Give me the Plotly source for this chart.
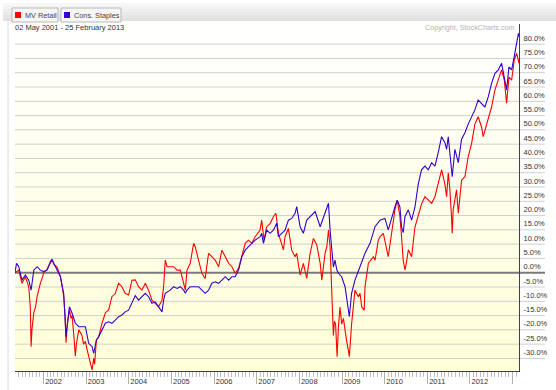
import plotly.graph_objects as go

# ---------------- data (percent change since 02 May 2001) ----------------
retail_dates = [
    "2001-05-02","2001-06-03","2001-07-01","2001-07-30","2001-08-28","2001-09-10","2001-09-17","2001-09-24",
    "2001-10-10","2001-10-25","2001-11-07","2001-11-20","2001-12-05","2001-12-20","2002-01-03","2002-02-01",
    "2002-03-01","2002-03-15","2002-03-30","2002-04-27","2002-05-26","2002-06-23","2002-07-05","2002-07-13",
    "2002-07-24","2002-08-11","2002-08-25","2002-09-03","2002-09-18","2002-10-01","2002-10-10","2002-10-30",
    "2002-11-15","2002-11-27","2002-12-10","2002-12-26","2003-01-10","2003-01-23","2003-02-05","2003-02-21",
    "2003-03-07","2003-03-15","2003-03-30","2003-04-19","2003-05-17","2003-06-15","2003-07-13","2003-08-10",
    "2003-09-08","2003-10-06","2003-11-04","2003-12-02","2003-12-31","2004-01-29","2004-02-26","2004-03-25",
    "2004-04-23","2004-05-22","2004-06-19","2004-07-18","2004-08-15","2004-09-13","2004-10-12","2004-10-26",
    "2004-11-09","2004-11-24","2004-12-22","2005-01-20","2005-02-18","2005-03-18","2005-04-16","2005-04-30",
    "2005-05-14","2005-06-11","2005-07-10","2005-07-24","2005-08-21","2005-09-19","2005-10-17","2005-11-15",
    "2005-12-13","2006-01-11","2006-02-09","2006-03-09","2006-04-07","2006-05-06","2006-06-03","2006-07-01",
    "2006-07-30","2006-08-27","2006-09-25","2006-10-23","2006-11-21","2006-12-19","2007-01-30","2007-02-13",
    "2007-03-05","2007-03-28","2007-04-26","2007-05-24","2007-06-15","2007-07-06","2007-08-04","2007-08-18",
    "2007-09-01","2007-09-30","2007-10-28","2007-11-26","2007-12-10","2008-01-08","2008-02-05","2008-03-05",
    "2008-04-03","2008-05-01","2008-05-30","2008-06-28","2008-07-12","2008-08-09","2008-08-24","2008-09-07",
    "2008-09-21","2008-10-05","2008-10-10","2008-10-19","2008-10-28","2008-11-07","2008-11-20","2008-12-01",
    "2008-12-15","2008-12-29","2009-01-13","2009-01-27","2009-02-10","2009-02-24","2009-03-05","2009-03-24",
    "2009-04-22","2009-05-21","2009-06-04","2009-06-19","2009-07-10","2009-07-17","2009-08-15","2009-09-27",
    "2009-10-11","2009-11-08","2009-11-22","2009-12-21","2010-01-04","2010-02-01","2010-03-02","2010-03-30",
    "2010-04-19","2010-05-12","2010-05-26","2010-06-09","2010-06-24","2010-07-06","2010-07-23","2010-08-20",
    "2010-09-18","2010-10-16","2010-11-13","2010-12-12","2011-01-10","2011-02-08","2011-03-08","2011-04-05",
    "2011-05-04","2011-06-01","2011-06-16","2011-06-30","2011-07-14","2011-07-28","2011-08-03","2011-08-11",
    "2011-08-26","2011-09-09","2011-09-24","2011-10-22","2011-11-20","2011-12-18","2012-01-15","2012-02-13",
    "2012-03-12","2012-04-10","2012-04-24","2012-05-23","2012-06-21","2012-07-05","2012-08-03","2012-09-01",
    "2012-09-29","2012-10-22","2012-11-11","2012-12-01","2012-12-24","2013-01-15","2013-02-05","2013-02-25",
]
retail_values = [
    0, 0.9, -3.7, -1.4, -5, -12, -25.9, -20,
    -14, -12, -8.4, -6, -3.7, -2, 0, 1.2,
    3.3, 4.5, 3, 2, -1.4, -8, -15, -24.5,
    -18, -13, -16, -15, -22, -29.2, -25, -20,
    -21, -22, -25, -24, -27, -29, -31, -34,
    -30, -32, -23.6, -22.4, -17.7, -14, -13, -8.4,
    -7.3, -3.7, -4.9, -7.2, -7.8, -2.6, -2.5, -4.9,
    -6.1, -3.7, -6.1, -9.6, -10.7, -11.9, -9.6, -4.9,
    4.4, 2.1, 2.1, 2.1, 0.9, 0.9, -3.7, -6.1,
    0.9, 3.3, 10.3, 9.1, 4.4, -0.2, -2, 6.8,
    5.6, 4.4, 2.1, 7.9, 5.6, 3.3, 2.1, -0.2,
    1.5, 5.6, 10.3, 11.4, 10.3, 12.6, 14.9, 18.4,
    11.4, 16.1, 17.2, 19.6, 20.8, 13.8, 10.3, 8,
    12.6, 15.5, 7.9, 5.6, 6.8, -0.8, 3.3, -2,
    6.8, 12, 9.7, 3.3, -2.6, 6.8, 9.1, 14.9,
    9.1, -7.2, -12, -22, -17, -18, -29.4, -19,
    -12, -18, -16, -21, -24, -27, -29.4, -18,
    -6.1, -8.4, -7.2, -11.9, -13.1, -4.9, 3.3, 5.6,
    4.4, 11.4, 12.6, 13.8, 10.8, 5.6, 13.8, 22,
    25.4, 19.6, 12.6, 4.4, 1, 3.3, 8, 5.6,
    16, 19.6, 24, 26.6, 25.4, 24.3, 26.6, 31,
    36, 31, 26.6, 35, 29, 19.6, 13.8, 22,
    25.4, 29, 20.8, 32.4, 33.6, 40.6, 45, 52,
    54.6, 51, 47.6, 52, 55.8, 58, 64, 67.4,
    71, 67.4, 59.3, 68.5, 67.4, 74.4, 76.8, 73.3,
]

staples_dates = [
    "2001-05-02","2001-05-15","2001-06-03","2001-07-01","2001-07-30","2001-08-28","2001-09-17","2001-10-10",
    "2001-11-07","2001-12-05","2002-01-03","2002-02-01","2002-03-01","2002-03-15","2002-03-30","2002-04-27",
    "2002-05-26","2002-06-23","2002-07-13","2002-08-11","2002-09-03","2002-10-01","2002-10-30","2002-11-27",
    "2002-12-26","2003-01-23","2003-02-21","2003-03-07","2003-03-30","2003-04-19","2003-05-17","2003-06-15",
    "2003-07-13","2003-08-10","2003-09-08","2003-10-06","2003-11-04","2003-12-02","2003-12-31","2004-01-29",
    "2004-02-26","2004-03-25","2004-04-23","2004-05-22","2004-06-19","2004-07-18","2004-08-15","2004-09-13",
    "2004-10-12","2004-10-26","2004-11-09","2004-12-22","2005-01-20","2005-02-18","2005-03-18","2005-04-16",
    "2005-04-30","2005-05-14","2005-06-11","2005-07-10","2005-08-21","2005-09-19","2005-10-17","2005-11-15",
    "2005-12-13","2006-01-11","2006-02-09","2006-03-09","2006-04-07","2006-05-06","2006-06-03","2006-07-01",
    "2006-07-30","2006-08-27","2006-09-25","2006-10-23","2006-11-21","2006-12-19","2007-01-30","2007-02-13",
    "2007-02-28","2007-03-28","2007-04-26","2007-05-24","2007-06-22","2007-07-06","2007-08-04","2007-09-01",
    "2007-09-30","2007-10-28","2007-11-26","2007-12-10","2008-01-08","2008-02-05","2008-03-05","2008-04-03",
    "2008-05-16","2008-06-28","2008-07-26","2008-08-24","2008-09-07","2008-09-21","2008-10-05","2008-10-19",
    "2008-11-02","2008-11-17","2008-12-01","2008-12-29","2009-01-27","2009-02-24","2009-03-05","2009-03-24",
    "2009-04-22","2009-06-04","2009-07-17","2009-08-29","2009-10-11","2009-11-22","2010-01-04","2010-02-01",
    "2010-03-02","2010-03-30","2010-04-19","2010-05-12","2010-05-26","2010-06-09","2010-06-24","2010-07-23",
    "2010-08-20","2010-09-18","2010-10-16","2010-11-13","2010-12-12","2011-01-10","2011-02-08","2011-03-08",
    "2011-04-05","2011-05-04","2011-06-01","2011-06-16","2011-06-30","2011-07-28","2011-08-03","2011-08-26",
    "2011-09-09","2011-09-24","2011-10-22","2011-11-20","2011-12-18","2012-01-15","2012-02-13","2012-03-12",
    "2012-04-10","2012-05-09","2012-06-07","2012-07-05","2012-08-03","2012-09-01","2012-09-29","2012-10-22",
    "2012-11-11","2012-12-01","2012-12-24","2013-01-15","2013-02-05","2013-02-20","2013-02-25",
]
staples_values = [
    0, 3.3, 2.1, -2.6, -0.8, -2.6, -6.1, 0.9,
    2.1, 0.9, 0.4, 0.9, 3.9, 4.7, 3.3, 0.9,
    -1.4, -7.2, -22.4, -11.9, -14.2, -17.7, -18.9, -18.9,
    -18.9, -24.7, -25.9, -28.2, -23.6, -22.4, -20, -17.7,
    -17.2, -17.7, -16.6, -15.4, -14.8, -13.7, -13.1, -10.7,
    -8, -9.6, -8.4, -7.2, -8.4, -10.7, -10.2, -11.9,
    -13.7, -9.6, -7.2, -6.1, -4.9, -5.5, -4.9, -6.1,
    -7.2, -6.1, -4.9, -4.9, -4.9, -6.1, -7.2, -6.1,
    -3.7, -3.2, -3.7, -2.6, -1.4, -2.6, -1.4, -1.4,
    0.9, 5.6, 7.9, 9.1, 10.3, 11.4, 12.6, 13.8,
    10.3, 14.9, 13.8, 14.9, 17.3, 12.6, 13.8, 14.9,
    18.4, 19, 20.8, 23.1, 16.1, 13.8, 18.4, 19.6,
    21.4, 16.1, 19.6, 23.1, 24.3, 14.9, 6.8, 2,
    4.4, 1, -0.2, -1.4, -4.9, -13.1, -15.4, -7.2,
    -2.6, 2.1, 6.8, 10.3, 16.1, 18.4, 19, 15,
    19.6, 23, 25.4, 23, 16, 14, 19.6, 22,
    18.4, 23, 31, 36, 37.3, 36, 38.5, 37.3,
    42, 47.6, 45.5, 43.2, 47.6, 35, 33.6, 43.2,
    40.8, 38.5, 46.7, 49, 52, 54.6, 57, 60.4,
    59.3, 58, 61.6, 66.3, 69.8, 71, 73.3, 68.6,
    64, 72, 71, 75.6, 81.4, 83.8, 82.7,
]

series_names = ["MV Retail", "Cons. Staples"]
series_colors = ["#ff0000", "#3300cc"]
year_ticks = [f"{y}-01-01" for y in range(2002, 2014)]
year_labels = [str(y) for y in range(2002, 2013)] + [""]
pct_ticks = list(range(-30, 85, 5))
pct_labels = [f"{v:.1f}%" for v in pct_ticks]
date_range_text = "02 May 2001 - 25 February 2013"
copyright_text = "Copyright, StockCharts.com"

# ---------------- layout geometry (pixels) ----------------
W, H = 556, 390
ML, MR, MT, MB = 15, 37, 24, 19
PW, PH = W - ML - MR, H - MT - MB
YMIN, YMAX = -34.4, 87.05


def px(x):
    return (x - ML) / PW


def py(y):
    return (H - MB - y) / PH


FONT = "Liberation Sans, Arial, sans-serif"
FS = 7.5

fig = go.Figure()
fig.add_trace(go.Scatter(x=retail_dates, y=retail_values, mode="lines", name=series_names[0],
                         line=dict(color=series_colors[0], width=1.1)))
fig.add_trace(go.Scatter(x=staples_dates, y=staples_values, mode="lines", name=series_names[1],
                         line=dict(color=series_colors[1], width=1.1)))

shapes = []
# plot background gradient white -> pale yellow
n = 30
for i in range(n):
    f = (i + 0.5) / n
    b = int(round(255 - 40 * f))
    shapes.append(dict(type="rect", xref="paper", yref="paper", x0=0, x1=1,
                       y0=1 - (i + 1) / n, y1=1 - i / n, layer="below",
                       fillcolor=f"rgb(255,255,{b})", line=dict(width=0)))
# horizontal grid lines extending under the right labels
for v in pct_ticks:
    pv = (v - YMIN) / (YMAX - YMIN)
    shapes.append(dict(type="line", xref="paper", yref="paper", x0=0, x1=px(545), y0=pv, y1=pv,
                       layer="below",
                       line=dict(color="#7a7a7a" if v == 0 else "#cfcfcf", width=2 if v == 0 else 1)))
# header bar
hb = 6
for i in range(hb):
    c = int(round(247 - 22 * (i / (hb - 1))))
    shapes.append(dict(type="rect", xref="paper", yref="paper", x0=px(3), x1=px(556),
                       y0=py(3 + (i + 1) * 3), y1=py(3 + i * 3),
                       fillcolor=f"rgb({c},{c},{c})", line=dict(width=0)))
# outer light frame at left
shapes.append(dict(type="line", xref="paper", yref="paper", x0=px(8), x1=px(8), y0=py(21), y1=py(390),
                   line=dict(color="#d8d8d8", width=1)))
# legend buttons
buttons = [(12, 58), (61, 121)]
for (x0, x1), col in zip(buttons, series_colors):
    shapes.append(dict(type="rect", xref="paper", yref="paper", x0=px(x0), x1=px(x1), y0=py(22), y1=py(8),
                       fillcolor="#f6f6f6", line=dict(color="#b8b8b8", width=1)))
    shapes.append(dict(type="rect", xref="paper", yref="paper", x0=px(x0 + 3), x1=px(x0 + 9),
                       y0=py(18), y1=py(12), fillcolor=col, line=dict(width=0)))

annotations = []
for (x0, x1), name in zip(buttons, series_names):
    annotations.append(dict(text=name, xref="paper", yref="paper", x=px(x0 + 11), y=py(15.5),
                            xanchor="left", yanchor="middle", showarrow=False,
                            font=dict(family=FONT, size=7.3, color="#444444")))
annotations.append(dict(text=date_range_text, xref="paper", yref="paper", x=px(13), y=py(27.5),
                        xanchor="left", yanchor="middle", showarrow=False,
                        font=dict(family=FONT, size=FS, color="#333333")))
annotations.append(dict(text=copyright_text, xref="paper", yref="paper", x=px(516), y=py(27.5),
                        xanchor="right", yanchor="middle", showarrow=False,
                        font=dict(family=FONT, size=7.2, color="#b4b4b4")))

fig.update_layout(
    width=W, height=H,
    margin=dict(l=ML, r=MR, t=MT, b=MB, pad=0, autoexpand=False),
    paper_bgcolor="white", plot_bgcolor="rgba(0,0,0,0)",
    showlegend=False, hovermode=False,
    shapes=shapes, annotations=annotations,
    xaxis=dict(
        type="date", range=["2001-05-02", "2013-02-25"], automargin=False,
        tickvals=year_ticks, ticktext=year_labels,
        ticks="outside", ticklen=12, tickcolor="#b0b0b0", tickwidth=1,
        ticklabelshift=10, ticklabelstandoff=-9,
        minor=dict(dtick="M1", tick0="2001-01-01", ticks="outside", ticklen=5,
                   tickcolor="#c0c0c0", showgrid=False),
        showgrid=False, zeroline=False,
        showline=True, linecolor="#404040", linewidth=1,
        tickfont=dict(family=FONT, size=FS, color="#333333"),
    ),
    yaxis=dict(
        side="right", range=[YMIN, YMAX], automargin=False,
        tickvals=pct_ticks, ticktext=pct_labels,
        ticks="", ticklabelshift=-6, ticklabelstandoff=2,
        showgrid=False, zeroline=False,
        showline=True, linecolor="#404040", linewidth=1,
        tickfont=dict(family=FONT, size=FS, color="#333333"),
    ),
)

fig.write_html("out.html", config={"displayModeBar": False},
               post_script="document.body.style.margin='0px';document.body.style.overflow='hidden';")
